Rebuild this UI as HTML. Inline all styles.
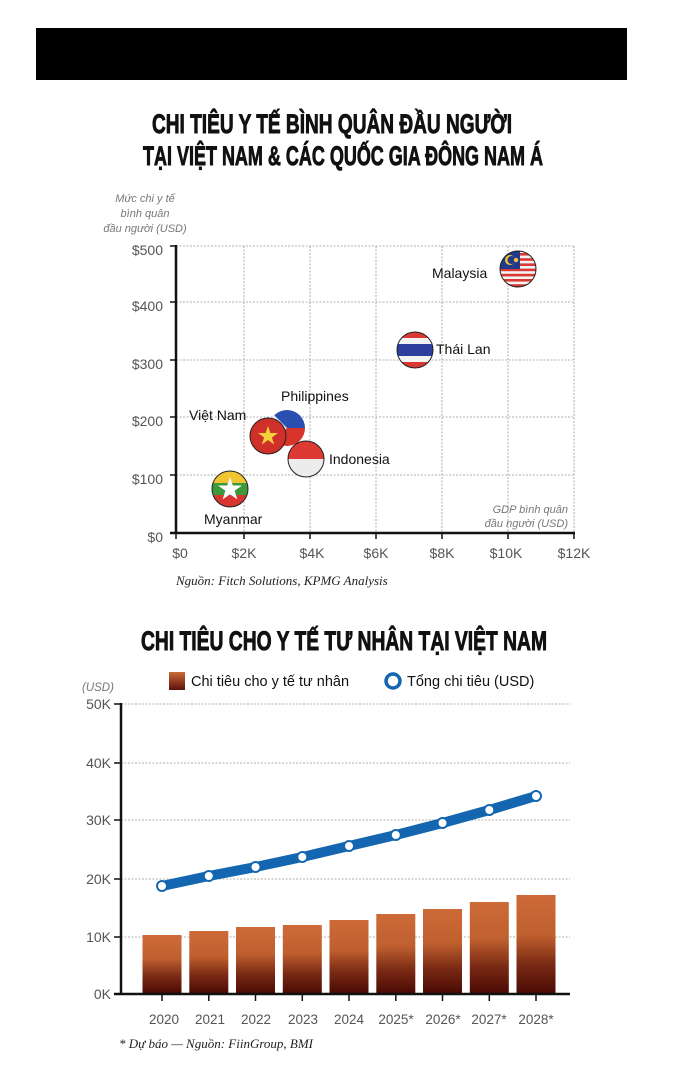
<!DOCTYPE html>
<html><head><meta charset="utf-8"><style>
body{margin:0;background:#fff;}
svg{display:block;}
.t{font-family:"Liberation Sans Narrow","Liberation Sans",sans-serif;font-weight:bold;font-size:27px;fill:#111;stroke:#111;stroke-width:0.9;}
.ax{font-family:"Liberation Sans",sans-serif;font-size:13px;fill:#555;}
.lb{font-family:"Liberation Sans",sans-serif;font-size:13.5px;fill:#111;}
.it{font-family:"Liberation Sans",sans-serif;font-style:italic;font-size:11px;fill:#777;}
.src{font-family:"Liberation Serif",serif;font-style:italic;font-size:13px;fill:#222;}
.g{stroke:#999;stroke-width:0.8;stroke-dasharray:2,1.5;}
</style></head><body>
<svg width="675" height="1080" viewBox="0 0 675 1080">
<defs>
<clipPath id="c1"><circle cx="0" cy="0" r="18"/></clipPath>
<linearGradient id="bg" x1="0" y1="0" x2="0" y2="1">
<stop offset="0" stop-color="#cd6a38"/><stop offset="0.4" stop-color="#c0602f"/><stop offset="0.7" stop-color="#7a2a14"/><stop offset="1" stop-color="#4a0904"/></linearGradient>
<linearGradient id="lg" x1="0" y1="0" x2="0" y2="1"><stop offset="0" stop-color="#cd6a38"/><stop offset="1" stop-color="#5a1208"/></linearGradient>
</defs>
<rect x="36" y="28" width="591" height="52" fill="#000"/>
<text class="t" x="152" y="133" textLength="360" lengthAdjust="spacingAndGlyphs">CHI TIÊU Y TẾ BÌNH QUÂN ĐẦU NGƯỜI</text>
<text class="t" x="143" y="165" textLength="400" lengthAdjust="spacingAndGlyphs">TẠI VIỆT NAM &amp; CÁC QUỐC GIA ĐÔNG NAM Á</text>
<g class="g">
<line x1="176" y1="246" x2="574" y2="246"/><line x1="176" y1="302" x2="574" y2="302"/><line x1="176" y1="360" x2="574" y2="360"/><line x1="176" y1="417" x2="574" y2="417"/><line x1="176" y1="475" x2="574" y2="475"/>
<line x1="244" y1="246" x2="244" y2="533"/><line x1="310" y1="246" x2="310" y2="533"/><line x1="376" y1="246" x2="376" y2="533"/><line x1="442" y1="246" x2="442" y2="533"/><line x1="508" y1="246" x2="508" y2="533"/><line x1="574" y1="246" x2="574" y2="533"/>
</g>
<line x1="176" y1="245" x2="176" y2="534" stroke="#111" stroke-width="2.5"/>
<line x1="170" y1="533" x2="575" y2="533" stroke="#111" stroke-width="2.5"/>
<g stroke="#111" stroke-width="1.5">
<line x1="170" y1="246" x2="176" y2="246"/><line x1="170" y1="302" x2="176" y2="302"/><line x1="170" y1="360" x2="176" y2="360"/><line x1="170" y1="417" x2="176" y2="417"/><line x1="170" y1="475" x2="176" y2="475"/>
<line x1="176" y1="533" x2="176" y2="539"/><line x1="244" y1="533" x2="244" y2="539"/><line x1="310" y1="533" x2="310" y2="539"/><line x1="376" y1="533" x2="376" y2="539"/><line x1="442" y1="533" x2="442" y2="539"/><line x1="508" y1="533" x2="508" y2="539"/><line x1="574" y1="533" x2="574" y2="539"/>
</g>
<g class="ax" text-anchor="end" style="font-size:14px">
<text x="163" y="255">$500</text><text x="163" y="311">$400</text><text x="163" y="369">$300</text><text x="163" y="426">$200</text><text x="163" y="484">$100</text><text x="163" y="542">$0</text>
</g>
<g class="ax" text-anchor="middle" style="font-size:14px">
<text x="180" y="558">$0</text><text x="244" y="558">$2K</text><text x="312" y="558">$4K</text><text x="376" y="558">$6K</text><text x="442" y="558">$8K</text><text x="506" y="558">$10K</text><text x="574" y="558">$12K</text>
</g>
<g class="it" text-anchor="middle"><text x="145" y="202">Mức chi y tế</text><text x="145" y="217">bình quân</text><text x="145" y="232">đầu người (USD)</text></g>
<g class="it" text-anchor="end"><text x="568" y="513">GDP bình quân</text><text x="568" y="527">đầu người (USD)</text></g>
<g transform="translate(287,428)"><g clip-path="url(#c1)"><rect x="-18" y="-18" width="36" height="18" fill="#2a4fb0"/><rect x="-18" y="0" width="36" height="18" fill="#d8342c"/><polygon points="-18,-18 0,0 -18,18" fill="#eee"/></g></g>
<g transform="translate(268,436)"><circle r="18" fill="#d0302a" stroke="#222" stroke-width="1"/><polygon points="0,-10 2.4,-3 10,-3 3.9,1.5 6.2,8.5 0,4 -6.2,8.5 -3.9,1.5 -10,-3 -2.4,-3" fill="#f6d23a"/></g>
<g transform="translate(306,459)"><g clip-path="url(#c1)"><rect x="-18" y="-18" width="36" height="18" fill="#dc3a33"/><rect x="-18" y="0" width="36" height="18" fill="#ececec"/></g><circle r="18" fill="none" stroke="#222" stroke-width="1"/></g>
<g transform="translate(230,489)"><g clip-path="url(#c1)"><rect x="-18" y="-18" width="36" height="12" fill="#f2c530"/><rect x="-18" y="-6" width="36" height="12" fill="#3d9a3a"/><rect x="-18" y="6" width="36" height="12" fill="#d93530"/></g><circle r="18" fill="none" stroke="#222" stroke-width="1"/><polygon points="0,-12 2.8,-3.5 12,-3.5 4.6,1.8 7.4,10.5 0,5.2 -7.4,10.5 -4.6,1.8 -12,-3.5 -2.8,-3.5" fill="#fff"/></g>
<g transform="translate(415,350)"><g clip-path="url(#c1)"><rect x="-18" y="-18" width="36" height="36" fill="#d83a33"/><rect x="-18" y="-12" width="36" height="24" fill="#f3f3f3"/><rect x="-18" y="-6" width="36" height="12" fill="#2d3e9c"/></g><circle r="18" fill="none" stroke="#222" stroke-width="1"/></g>
<g transform="translate(518,269)"><g clip-path="url(#c1)"><rect x="-18" y="-18" width="36" height="36" fill="#f3f3f3"/><g fill="#d83a33"><rect x="-18" y="-16" width="36" height="2.6"/><rect x="-18" y="-10.8" width="36" height="2.6"/><rect x="-18" y="-5.6" width="36" height="2.6"/><rect x="-18" y="-0.4" width="36" height="2.6"/><rect x="-18" y="4.8" width="36" height="2.6"/><rect x="-18" y="10" width="36" height="2.6"/><rect x="-18" y="15.2" width="36" height="2.6"/></g><rect x="-18" y="-18" width="20" height="18" fill="#233a8c"/><circle cx="-8" cy="-9" r="5" fill="#f2c530"/><circle cx="-6.5" cy="-9" r="4" fill="#233a8c"/><circle cx="-2" cy="-9" r="2.2" fill="#f2c530"/></g><circle r="18" fill="none" stroke="#222" stroke-width="1"/></g>
<g class="lb" style="font-size:14px">
<text x="432" y="278">Malaysia</text><text x="436" y="354">Thái Lan</text><text x="281" y="401">Philippines</text><text x="189" y="420">Việt Nam</text><text x="329" y="464">Indonesia</text><text x="204" y="524">Myanmar</text>
</g>
<text class="src" x="176" y="585">Nguồn: Fitch Solutions, KPMG Analysis</text>
<text class="t" x="141" y="650" textLength="406" lengthAdjust="spacingAndGlyphs">CHI TIÊU CHO Y TẾ TƯ NHÂN TẠI VIỆT NAM</text>
<rect x="169" y="672" width="16" height="18" fill="url(#lg)"/>
<text class="lb" x="191" y="686" style="font-size:14.5px">Chi tiêu cho y tế tư nhân</text>
<circle cx="393" cy="681" r="7" fill="#fff" stroke="#1566b0" stroke-width="3.5"/>
<text class="lb" x="407" y="686" style="font-size:14.5px">Tổng chi tiêu (USD)</text>
<text class="it" x="82" y="691" style="font-size:11.5px">(USD)</text>
<g class="g" stroke="#888">
<line x1="121" y1="704" x2="570" y2="704"/><line x1="121" y1="763" x2="570" y2="763"/><line x1="121" y1="820" x2="570" y2="820"/><line x1="121" y1="879" x2="570" y2="879"/><line x1="121" y1="937" x2="570" y2="937"/>
</g>
<g fill="url(#bg)">
<rect x="142.5" y="935" width="39" height="59"/>
<rect x="189.3" y="931" width="39" height="63"/>
<rect x="236" y="927" width="39" height="67"/>
<rect x="282.8" y="925" width="39" height="69"/>
<rect x="329.5" y="920" width="39" height="74"/>
<rect x="376.3" y="914" width="39" height="80"/>
<rect x="423" y="909" width="39" height="85"/>
<rect x="469.8" y="902" width="39" height="92"/>
<rect x="516.5" y="895" width="39" height="99"/>
</g>
<line x1="121" y1="703" x2="121" y2="995" stroke="#111" stroke-width="2.5"/>
<line x1="114" y1="994" x2="570" y2="994" stroke="#111" stroke-width="2.5"/>
<g stroke="#111" stroke-width="1.5">
<line x1="114" y1="704" x2="121" y2="704"/><line x1="114" y1="763" x2="121" y2="763"/><line x1="114" y1="820" x2="121" y2="820"/><line x1="114" y1="879" x2="121" y2="879"/><line x1="114" y1="937" x2="121" y2="937"/>
<line x1="162" y1="994" x2="162" y2="1001"/><line x1="208.8" y1="994" x2="208.8" y2="1001"/><line x1="255.5" y1="994" x2="255.5" y2="1001"/><line x1="302.3" y1="994" x2="302.3" y2="1001"/><line x1="349" y1="994" x2="349" y2="1001"/><line x1="395.8" y1="994" x2="395.8" y2="1001"/><line x1="442.5" y1="994" x2="442.5" y2="1001"/><line x1="489.3" y1="994" x2="489.3" y2="1001"/><line x1="536" y1="994" x2="536" y2="1001"/>
</g>
<g class="ax" text-anchor="end" style="font-size:14px">
<text x="111" y="709">50K</text><text x="111" y="768">40K</text><text x="111" y="825">30K</text><text x="111" y="884">20K</text><text x="111" y="942">10K</text><text x="111" y="999">0K</text>
</g>
<g class="ax" text-anchor="middle" style="font-size:13.5px">
<text x="164" y="1024">2020</text><text x="210" y="1024">2021</text><text x="256" y="1024">2022</text><text x="303" y="1024">2023</text><text x="349" y="1024">2024</text><text x="396" y="1024">2025*</text><text x="443" y="1024">2026*</text><text x="489" y="1024">2027*</text><text x="536" y="1024">2028*</text>
</g>
<polyline points="162,886 208.8,876 255.5,867 302.3,857 349,846 395.8,835 442.5,823 489.3,810 536,796" fill="none" stroke="#1566b0" stroke-width="10" stroke-linejoin="round" stroke-linecap="round"/>
<g fill="#fff" stroke="#1566b0" stroke-width="2">
<circle cx="162" cy="886" r="5"/><circle cx="208.8" cy="876" r="5"/><circle cx="255.5" cy="867" r="5"/><circle cx="302.3" cy="857" r="5"/><circle cx="349" cy="846" r="5"/><circle cx="395.8" cy="835" r="5"/><circle cx="442.5" cy="823" r="5"/><circle cx="489.3" cy="810" r="5"/><circle cx="536" cy="796" r="5"/>
</g>
<text class="src" x="119" y="1048">* Dự báo — Nguồn: FiinGroup, BMI</text>
</svg>
</body></html>
